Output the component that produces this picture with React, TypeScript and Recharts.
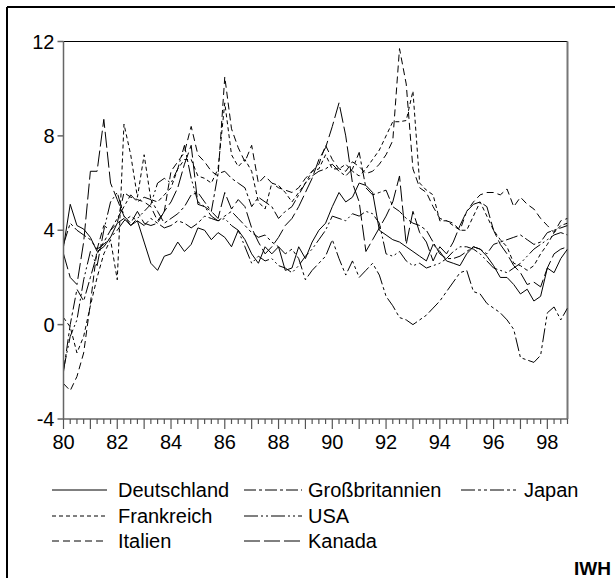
import React from 'react';
import { LineChart, Line, XAxis, YAxis, ReferenceLine } from 'recharts';

const quarters: number[] = [];
for (let y = 80; y <= 98; y++) for (let k = 0; k < 4; k++) quarters.push(y + k / 4);

const deutschland = [3.3,5.1,4.2,4.05, 3.7,3.1,3.3,3.7, 4.3,4.5,4.2,4.4, 3.5,2.6,2.3,2.9, 3.0,3.5,3.1,3.4, 4.1,4.0,3.6,3.9, 3.7,3.3,4.0,3.6, 3.0,2.6,3.3,3.0, 3.3,2.3,2.4,3.3, 2.8,3.5,4.0,4.3, 5.0,5.6,5.2,5.4, 6.0,5.9,5.6,4.0, 3.8,3.6,3.5,3.3, 3.1,2.9,2.7,3.4, 3.1,2.7,2.6,2.5, 3.0,3.3,3.2,2.9, 2.5,2.0,2.0,1.7, 1.3,1.5,1.0,1.2, 2.4,2.2,2.8,3.2];
const grossbritannien = [-2.0,0.0,1.5,1.0, 2.0,3.0,3.5,4.0, 4.5,5.0,5.5,5.2, 5.4,5.3,4.8,4.3, 4.5,4.7,5.0,5.5, 5.6,5.2,4.8,6.4, 6.5,6.2,6.0,5.8, 5.0,5.4,5.2,5.0, 4.5,4.8,5.0,5.5, 6.0,6.3,6.5,6.6, 6.8,6.5,6.3,6.6, 7.3,5.8,5.5,5.6, 5.7,5.0,4.8,4.5, 4.3,4.2,4.0,3.5, 3.0,2.8,2.8,2.9, 3.1,3.3,3.2,3.0, 3.4,3.5,3.6,3.7, 3.8,3.6,3.4,3.5, 3.9,4.0,4.1,4.2];
const japan = [3.4,4.3,4.0,3.8, 3.6,3.2,3.4,3.7, 4.0,4.4,4.6,4.4, 4.2,4.5,4.3,4.1, 4.2,4.4,4.3,4.1, 4.3,4.6,4.5,4.4, 4.6,4.8,4.5,4.2, 3.9,3.7,3.8,3.5, 3.3,3.0,3.2,2.8, 1.9,2.3,2.6,2.9, 3.6,2.8,2.1,2.7, 2.0,2.3,2.6,2.1, 1.2,0.8,0.3,0.2, 0.0,0.2,0.4,0.7, 1.0,1.4,1.8,2.2, 2.3,1.4,1.3,0.9, 0.7,0.5,0.2,-0.2, -1.4,-1.5,-1.6,-1.3, 0.5,0.75,0.2,0.7];
const frankreich = [0.3,-0.1,-1.2,-0.5, 0.8,2.0,3.0,3.6, 1.9,8.5,7.2,5.4, 7.2,5.3,5.2,5.5, 5.8,6.6,7.0,7.0, 6.3,6.2,6.0,6.6, 9.4,7.2,6.7,7.0, 6.5,5.2,4.9,6.0, 5.9,5.6,5.2,5.6, 6.0,6.5,6.6,7.2, 6.6,6.6,6.8,6.5, 6.3,6.6,7.0,7.4, 8.0,8.6,8.6,8.65, 9.9,6.0,5.7,5.5, 4.4,4.4,4.2,4.0, 4.0,4.6,5.2,4.6, 4.0,3.6,3.3,2.6, 2.5,2.3,2.5,3.0, 3.4,3.9,4.2,4.3];
const usa = [-1.9,-0.5,0.2,1.9, 3.1,2.5,4.0,5.2, 5.6,4.6,4.2,4.5, 4.8,5.1,6.0,6.2, 6.0,6.6,7.6,6.2, 5.2,5.0,4.6,4.4, 4.5,4.2,4.0,3.3, 2.6,2.9,2.7,2.8, 2.5,2.4,2.2,2.5, 2.9,3.2,3.6,4.0, 4.6,4.5,4.4,4.7, 4.6,4.8,4.7,4.3, 3.0,2.9,3.1,2.7, 2.5,2.6,2.4,2.5, 2.6,2.8,3.1,3.3, 3.3,3.2,3.0,2.7, 2.4,2.3,2.2,2.4, 2.6,2.9,3.2,3.4, 3.6,3.8,3.9,3.8];
const italien = [-2.5,-2.8,-2.2,-1.2, 0.9,3.2,4.2,4.0, 4.3,5.6,5.4,5.3, 5.2,5.0,4.4,4.8, 6.5,6.9,7.3,8.4, 7.2,6.9,6.5,6.3, 10.5,8.3,7.5,6.9, 7.6,6.0,6.3,6.0, 5.8,5.7,5.6,5.8, 6.2,6.5,6.8,7.6, 7.0,6.6,6.5,6.9, 6.7,6.4,6.5,6.8, 7.2,7.8,11.7,10.2, 6.6,5.8,5.6,5.0, 4.5,4.4,4.3,4.0, 4.8,5.2,5.5,5.6, 5.6,5.5,5.75,5.0, 5.4,5.1,4.9,4.5, 4.2,3.9,4.4,4.5];
const kanada = [3.0,2.0,1.7,3.5, 6.5,6.5,8.7,6.0, 5.3,4.6,4.3,4.8, 4.3,4.2,4.3,4.8, 5.2,5.8,6.8,7.6, 5.1,5.0,4.8,4.5, 5.6,4.9,5.3,5.0, 4.1,3.5,3.0,3.3, 3.7,4.2,4.5,5.0, 5.6,6.2,7.0,7.5, 8.4,9.4,8.0,6.0, 5.2,3.1,3.6,4.1, 4.6,5.2,6.3,3.4, 4.8,3.9,3.5,2.7, 3.3,3.0,3.5,4.2, 4.8,5.1,5.2,5.0, 4.0,3.4,3.0,2.5, 2.2,1.7,1.8,1.6, 2.4,3.0,3.2,3.3];

const seriesNames = ['Deutschland', 'Großbritannien', 'Japan', 'Frankreich', 'USA', 'Italien', 'Kanada'];
const seriesKeys = ['de', 'gb', 'jp', 'fr', 'us', 'it', 'ca'];
const seriesValues = [deutschland, grossbritannien, japan, frankreich, usa, italien, kanada];
const seriesDash = ['', '12 3 3 3', '14 3 3 3 3 3', '4 3', '14 3 2 3 2 3', '7 4', '16 4'];

const yTicks = [-4, 0, 4, 8, 12];
const xLabelYears = [80, 82, 84, 86, 88, 90, 92, 94, 96, 98];

const data = quarters.map((t, i) => {
  const row: any = { t };
  seriesKeys.forEach((k, j) => { row[k] = seriesValues[j][i]; });
  return row;
});

const FONT = 'Liberation Sans, Arial, sans-serif';

const XTick = (props: any) => {
  const { x, y, payload } = props;
  const v = payload.value as number;
  const isYear = Math.abs(v - Math.round(v)) < 1e-6;
  const showLabel = isYear && xLabelYears.includes(Math.round(v));
  return (
    <g>
      <line x1={x} x2={x} y1={y} y2={y + (isYear ? 10 : 5)} stroke="#555" strokeWidth={1.2} />
      {showLabel && (
        <text x={x} y={y + 30} textAnchor="middle" fontSize={20} fontFamily={FONT} fill="#000">
          {Math.round(v)}
        </text>
      )}
    </g>
  );
};

const legendLayout = [
  { x1: 52, x2: 107, tx: 118, y: 490 },
  { x1: 244, x2: 302, tx: 308, y: 490 },
  { x1: 461, x2: 517, tx: 524, y: 490 },
  { x1: 52, x2: 107, tx: 118, y: 516 },
  { x1: 244, x2: 302, tx: 308, y: 516 },
  { x1: 52, x2: 107, tx: 118, y: 541 },
  { x1: 244, x2: 302, tx: 308, y: 541 },
];

export default function App() {
  return (
    <div style={{ position: 'absolute', left: 0, top: 0, width: 615, height: 578, background: '#fff' }}>
      <svg width={615} height={578} style={{ position: 'absolute', left: 0, top: 0 }}>
        <line x1={7} y1={7} x2={615} y2={7} stroke="#000" strokeWidth={2} />
        <line x1={7} y1={7} x2={7} y2={578} stroke="#000" strokeWidth={2} />
        {legendLayout.map((l, i) => (
          <g key={i}>
            <line x1={l.x1} x2={l.x2} y1={l.y} y2={l.y} stroke="#000" strokeWidth={1} strokeDasharray={seriesDash[i] || undefined} />
            <text x={l.tx} y={l.y + 7} fontSize={20} fontFamily={FONT} fill="#000">{seriesNames[i]}</text>
          </g>
        ))}
        <text x={574} y={575} fontSize={19} fontWeight="bold" fontFamily={FONT} fill="#000">IWH</text>
      </svg>
      <div style={{ position: 'absolute', left: 0, top: 0 }}>
        <LineChart width={615} height={578} data={data} margin={{ top: 41.5, right: 47.5, bottom: 0, left: 0 }}>
          <XAxis
            dataKey="t"
            type="number"
            domain={[80, 98.75]}
            ticks={quarters}
            interval={0}
            tick={<XTick />}
            tickLine={false}
            tickSize={0}
            tickMargin={0}
            height={159}
            stroke="#666"
            strokeWidth={1.5}
            allowDataOverflow
          />
          <YAxis
            type="number"
            domain={[-4, 12]}
            ticks={yTicks}
            interval={0}
            width={63.5}
            tickSize={6}
            tickMargin={3}
            stroke="#666"
            strokeWidth={1.5}
            tick={{ fontSize: 20, fontFamily: FONT, fill: '#000' }}
            allowDataOverflow
          />
          <ReferenceLine y={12} stroke="#000" strokeWidth={1} ifOverflow="visible" />
          <ReferenceLine x={98.75} stroke="#777" strokeWidth={2} ifOverflow="visible" />
          {seriesKeys.map((k, j) => (
            <Line
              key={k}
              dataKey={k}
              type="linear"
              stroke="#000"
              strokeWidth={1}
              strokeDasharray={seriesDash[j] || undefined}
              dot={false}
              isAnimationActive={false}
            />
          ))}
        </LineChart>
      </div>
    </div>
  );
}
